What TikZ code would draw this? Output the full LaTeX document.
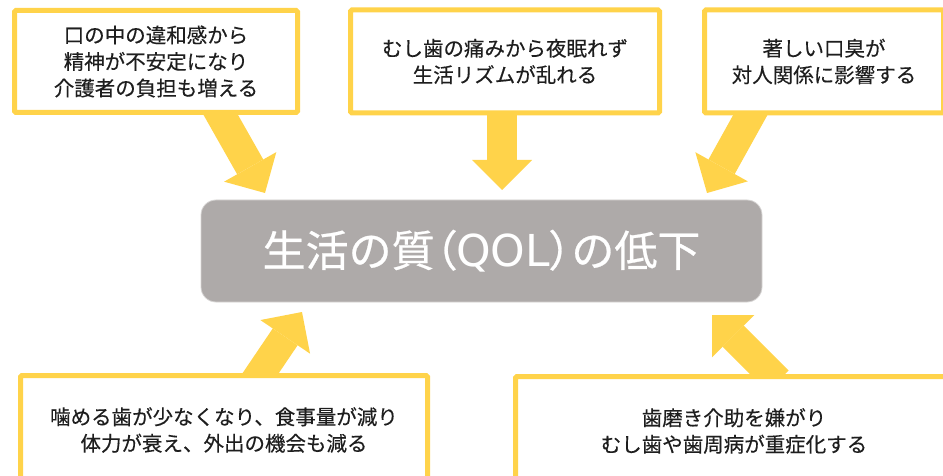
\documentclass[tikz,border=0pt]{standalone}
\usepackage{fontspec}
\setmainfont{Noto Sans CJK JP}[FakeBold=0.25]
\newfontfamily\qolfont{Noto Sans CJK JP}[FakeBold=0.6]
\newfontfamily\qollatin{DejaVu Sans}
\usetikzlibrary{arrows.meta}
\definecolor{boxyellow}{HTML}{FFD34A}
\definecolor{qolgray}{HTML}{AEAAA9}
\definecolor{qoledge}{HTML}{D6D4D3}
\definecolor{txtdark}{HTML}{1E1E1E}
\newcommand{\narrowparen}[1]{{\addfontfeature{RawFeature=+palt}#1}}
\tikzset{
  causebox/.style={draw=boxyellow, line width=5pt, fill=white, rounded corners=1.5pt,
    inner sep=0pt, align=center, text=txtdark, font=\fontsize{20.5}{26.5}\selectfont},
  qolbox/.style={draw=qoledge, line width=0.8pt, fill=qolgray, rounded corners=15pt,
    inner sep=0pt, text=white, font=\qolfont\fontsize{43}{50}\selectfont},
  bigarrow/.style={draw=boxyellow, line width=30pt,
    -{Triangle[length=30pt,width=60pt,line width=0pt]}}
}
\begin{document}
\begin{tikzpicture}[x=1pt,y=-1pt]
\useasboundingbox (0,0) rectangle (943,476);
\clip (0,0) rectangle (943,476);
% arrow end points
\coordinate (s1) at (214,103); \coordinate (t1) at (265,193);
\coordinate (s2) at (502,105); \coordinate (t2) at (502,190);
\coordinate (s3) at (757,103); \coordinate (t3) at (707,193);
\coordinate (s4) at (254,383); \coordinate (t4) at (302,312);
\coordinate (s5) at (778,381); \coordinate (t5) at (712,315);
\draw[bigarrow] (s1) -- (t1);
\draw[bigarrow] (s2) -- (t2);
\draw[bigarrow] (s3) -- (t3);
\draw[bigarrow] (s4) -- (t4);
\draw[bigarrow] (s5) -- (t5);
% boxes
\node[causebox, minimum width=283pt, minimum height=102pt] (tl) at (156,61.5)
  {口の中の違和感から\\精神が不安定になり\\介護者の負担も増える};
\node[causebox, minimum width=309pt, minimum height=103pt] (tm) at (505,61.5)
  {むし歯の痛みから夜眠れず\\生活リズムが乱れる};
\node[causebox, minimum width=239pt, minimum height=103pt] (tr) at (824,61.5)
  {著しい口臭が\\対人関係に影響する};
\node[causebox, minimum width=407pt, minimum height=109pt] (bl) at (224,430)
  {噛める歯が少なくなり、食事量が減り\\体力が衰え、外出の機会も減る};
\node[causebox, minimum width=437pt, minimum height=109pt] (br) at (734,431)
  {歯磨き介助を嫌がり\\むし歯や歯周病が重症化する};
\node[qolbox, minimum width=561pt, minimum height=102pt] (qol) at (481.5,251)
  {生活の質\narrowparen{（}{\qollatin\fontsize{44}{50}\selectfont QOL}\narrowparen{）}の低下};
\end{tikzpicture}
\end{document}
